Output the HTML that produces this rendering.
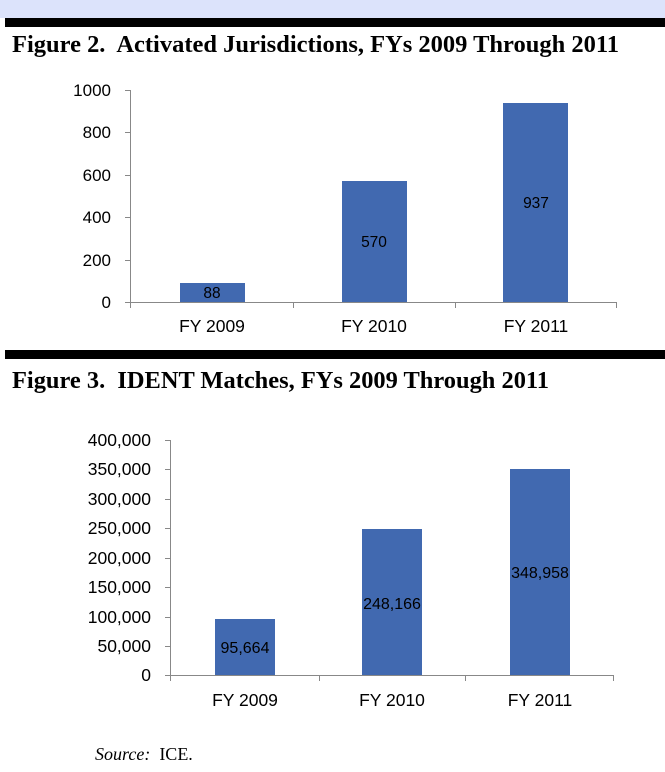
<!DOCTYPE html>
<html><head><meta charset="utf-8"><style>
html,body{margin:0;padding:0;background:#fff;width:665px;height:772px;overflow:hidden}
text{white-space:pre}
</style></head><body>
<svg width="665" height="772" xmlns="http://www.w3.org/2000/svg" font-family="Liberation Sans, sans-serif" xml:space="preserve">
<rect x="0" y="0" width="665" height="18" fill="#dce3fb"/>
<rect x="5" y="18" width="660" height="9" fill="#000"/>
<text x="12" y="52" font-family="Liberation Serif, serif" font-weight="bold" font-size="24.5" textLength="607" lengthAdjust="spacingAndGlyphs">Figure 2.  Activated Jurisdictions, FYs 2009 Through 2011</text>
<g stroke="#888" stroke-width="1" fill="none">
<line x1="130.5" y1="90" x2="130.5" y2="308"/>
<line x1="125" y1="90.5" x2="130" y2="90.5"/>
<line x1="125" y1="132.5" x2="130" y2="132.5"/>
<line x1="125" y1="175.5" x2="130" y2="175.5"/>
<line x1="125" y1="217.5" x2="130" y2="217.5"/>
<line x1="125" y1="260.5" x2="130" y2="260.5"/>
<line x1="125" y1="302.5" x2="616" y2="302.5"/>
<line x1="293.5" y1="302" x2="293.5" y2="308"/>
<line x1="455.5" y1="302" x2="455.5" y2="308"/>
<line x1="616.5" y1="302" x2="616.5" y2="308"/>
</g>
<g font-size="17" text-anchor="end" fill="#000">
<text x="111" y="96">1000</text><text x="111" y="138">800</text><text x="111" y="181">600</text>
<text x="111" y="223">400</text><text x="111" y="266">200</text><text x="111" y="308">0</text>
</g>
<g fill="#4169b0">
<rect x="180" y="283" width="65" height="19"/>
<rect x="342" y="181" width="65" height="121"/>
<rect x="503" y="103" width="65" height="199"/>
</g>
<g font-size="15.5" text-anchor="middle" fill="#000">
<text x="212" y="298">88</text><text x="374" y="247">570</text><text x="536" y="208">937</text>
</g>
<g font-size="17.5" text-anchor="middle" fill="#000">
<text x="212" y="332">FY 2009</text><text x="374" y="332">FY 2010</text><text x="536" y="332">FY 2011</text>
</g>
<rect x="5" y="350" width="660" height="9" fill="#000"/>
<text x="12" y="388" font-family="Liberation Serif, serif" font-weight="bold" font-size="24.5" textLength="537" lengthAdjust="spacingAndGlyphs">Figure 3.  IDENT Matches, FYs 2009 Through 2011</text>
<g stroke="#888" stroke-width="1" fill="none">
<line x1="170.5" y1="440" x2="170.5" y2="681"/>
<line x1="165" y1="440.5" x2="170" y2="440.5"/>
<line x1="165" y1="469.5" x2="170" y2="469.5"/>
<line x1="165" y1="499.5" x2="170" y2="499.5"/>
<line x1="165" y1="528.5" x2="170" y2="528.5"/>
<line x1="165" y1="558.5" x2="170" y2="558.5"/>
<line x1="165" y1="587.5" x2="170" y2="587.5"/>
<line x1="165" y1="617.5" x2="170" y2="617.5"/>
<line x1="165" y1="646.5" x2="170" y2="646.5"/>
<line x1="165" y1="675.5" x2="613" y2="675.5"/>
<line x1="319.5" y1="675" x2="319.5" y2="681"/>
<line x1="465.5" y1="675" x2="465.5" y2="681"/>
<line x1="613.5" y1="675" x2="613.5" y2="681"/>
</g>
<g font-size="17.5" text-anchor="end" fill="#000">
<text x="151" y="446">400,000</text><text x="151" y="475">350,000</text><text x="151" y="505">300,000</text>
<text x="151" y="534">250,000</text><text x="151" y="564">200,000</text><text x="151" y="593">150,000</text>
<text x="151" y="623">100,000</text><text x="151" y="652">50,000</text><text x="151" y="681">0</text>
</g>
<g fill="#4169b0">
<rect x="215" y="619" width="60" height="56"/>
<rect x="362" y="529" width="60" height="146"/>
<rect x="510" y="469" width="60" height="206"/>
</g>
<g font-size="16" text-anchor="middle" fill="#000">
<text x="245" y="653">95,664</text><text x="392" y="609">248,166</text><text x="540" y="578">348,958</text>
</g>
<g font-size="17.5" text-anchor="middle" fill="#000">
<text x="245" y="706">FY 2009</text><text x="392" y="706">FY 2010</text><text x="540" y="706">FY 2011</text>
</g>
<text x="95" y="760" font-family="Liberation Serif, serif" font-size="18"><tspan font-style="italic">Source:</tspan>  ICE.</text>
</svg>
</body></html>
